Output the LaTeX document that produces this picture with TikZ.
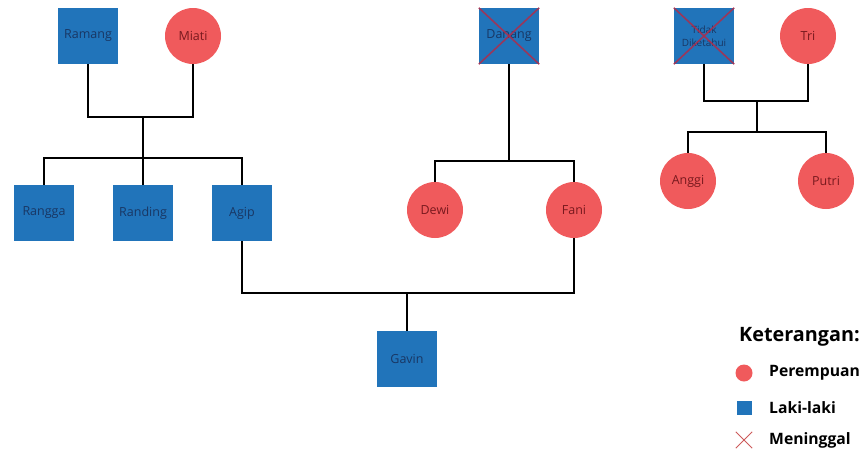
\documentclass[tikz,border=0pt]{standalone}
\usepackage{fontspec}
\setmainfont{Open Sans}
\definecolor{mblue}{RGB}{33,116,186}
\definecolor{fred}{RGB}{240,90,92}
\definecolor{btext}{RGB}{25,55,100}
\definecolor{rtext}{RGB}{120,25,30}
\definecolor{xred}{RGB}{175,45,75}
\definecolor{lxred}{RGB}{205,90,90}
\begin{document}
\begin{tikzpicture}[x=1pt,y=-1pt,
  male/.style={rectangle,fill=mblue,minimum width=60pt,minimum height=56pt,inner sep=0pt,text=btext,font=\fontsize{12.5}{14}\selectfont},
  female/.style={circle,fill=fred,minimum size=56pt,inner sep=0pt,text=rtext,font=\fontsize{12.5}{14}\selectfont},
  link/.style={draw=black,line width=1.8pt},
  deadx/.style={draw=xred,line width=1.6pt,opacity=0.85},
  legtext/.style={anchor=west,font=\fontsize{15.7}{18}\selectfont\bfseries,inner sep=0pt}]
\useasboundingbox (0,0) rectangle (862,453);
% people
\node[male] (ramang) at (88,36) {Ramang};
\node[female] (miati) at (193,36) {Miati};
\node[male] (rangga) at (44,213) {Rangga};
\node[male] (randing) at (143,213) {Randing};
\node[male] (agip) at (242,213) {Agip};
\node[male] (danang) at (509,36) {Danang};
\node[female] (dewi) at (435,210) {Dewi};
\node[female] (fani) at (574,210) {Fani};
\node[male] (gavin) at (407,359) {Gavin};
\node[male,align=center,font=\fontsize{10}{12.5}\selectfont] (tidak) at (704,36) {Tidak\\Diketahui};
\node[female] (tri) at (808,36) {Tri};
\node[female] (anggi) at (688,181) {Anggi};
\node[female] (putri) at (826,181) {Putri};
% deceased crosses
\draw[deadx] (danang.north west) -- (danang.south east);
\draw[deadx] (danang.north east) -- (danang.south west);
\draw[deadx] (tidak.north west) -- (tidak.south east);
\draw[deadx] (tidak.north east) -- (tidak.south west);
% junctions
\coordinate (m1) at (143,117);
\coordinate (s1) at (143,158);
\coordinate (d1) at (509,161);
\coordinate (g1) at (407,293);
\coordinate (t1) at (757,101);
\coordinate (t2) at (757,132);
% connectors
\draw[link] (ramang.south) |- (m1) -| (miati.south);
\draw[link] (m1) -- (s1);
\draw[link] (rangga.north) |- (s1) -| (agip.north);
\draw[link] (s1) -- (randing.north);
\draw[link] (danang.south) -- (d1);
\draw[link] (dewi.north) |- (d1) -| (fani.north);
\draw[link] (agip.south) |- (g1) -| (fani.south);
\draw[link] (g1) -- (gavin.north);
\draw[link] (tidak.south) |- (t1) -| (tri.south);
\draw[link] (t1) -- (t2);
\draw[link] (anggi.north) |- (t2) -| (putri.north);
% legend
\node[anchor=west,inner sep=0pt,font=\fontsize{19.8}{22}\selectfont\bfseries] (legtitle) at (739,337) {Keterangan:};
\node[circle,fill=fred,minimum size=17pt,inner sep=0pt] (lcirc) at (744,373) {};
\node[legtext] (lper) at (769,373) {Perempuan};
\node[rectangle,fill=mblue,minimum width=15pt,minimum height=14pt,inner sep=0pt] (lsq) at (744,408) {};
\node[legtext] (llaki) at (769,408) {Laki-laki};
\node[minimum width=16pt,minimum height=16pt,inner sep=0pt] (lx) at (744,440) {};
\draw[draw=lxred,line width=1pt] (lx.north west) -- (lx.south east);
\draw[draw=lxred,line width=1pt] (lx.north east) -- (lx.south west);
\node[legtext] (lmen) at (769,440) {Meninggal};
\end{tikzpicture}
\end{document}
